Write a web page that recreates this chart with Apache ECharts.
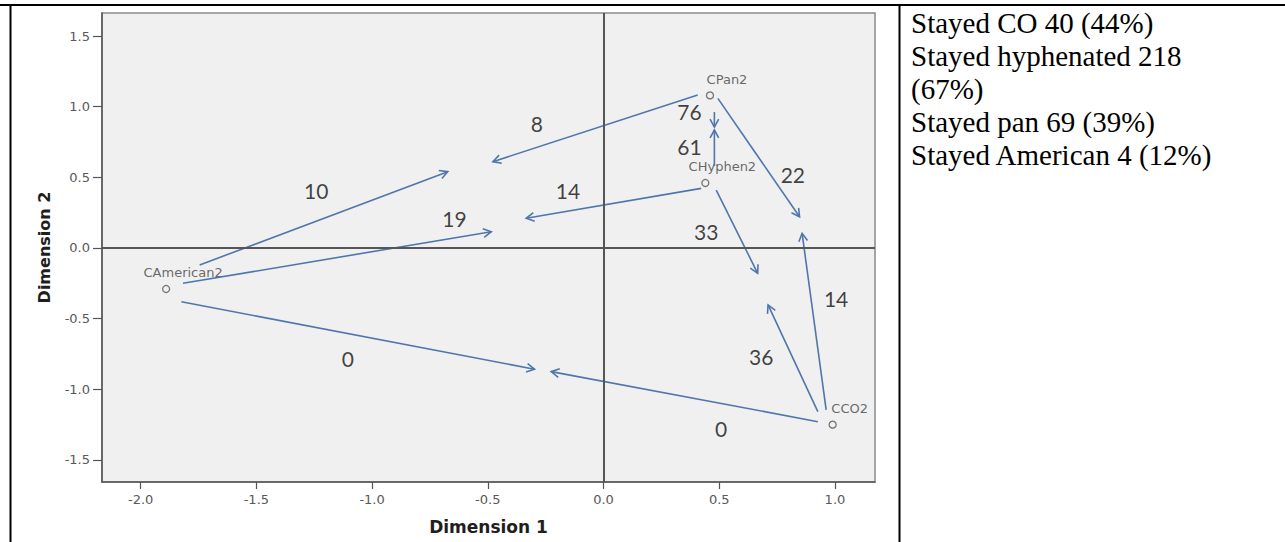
<!DOCTYPE html>
<html>
<head>
<meta charset="utf-8">
<script src="https://cdn.jsdelivr.net/npm/echarts@6/dist/echarts.min.js"></script>
<style>
  html, body { margin: 0; padding: 0; background: #ffffff; }
  #chart { width: 1285px; height: 542px; }
</style>
</head>
<body>
<div id="chart"></div>
<script>
// ---- data ----
const categories = ['CAmerican2', 'CPan2', 'CHyphen2', 'CCO2'];
const dim1 = [-1.89, 0.46, 0.44, 0.99];
const dim2 = [-0.29, 1.08, 0.46, -1.25];

const transitionCounts = [10, 19, 0, 0, 36, 14, 33, 14, 61, 76, 8, 22];
const arrowFrom = [
  [-1.745, -0.120], [-1.817, -0.250], [-1.824, -0.380], [0.926, -1.229],
  [0.926, -1.158], [0.962, -1.146], [0.487, 0.410], [0.422, 0.422],
  [0.479, 0.580], [0.479, 0.962], [0.407, 1.083], [0.494, 1.059]
];
const arrowTo = [
  [-0.673, 0.540], [-0.485, 0.115], [-0.298, -0.858], [-0.226, -0.875],
  [0.711, -0.403], [0.858, 0.104], [0.666, -0.179], [-0.334, 0.210],
  [0.479, 0.835], [0.479, 0.856], [-0.478, 0.611], [0.847, 0.221]
];
const countLabelAt = [
  [-1.241, 0.410], [-0.644, 0.210], [-1.105, -0.780], [0.508, -1.276],
  [0.681, -0.769], [1.005, -0.356], [0.444, 0.115], [-0.154, 0.410],
  [0.371, 0.717], [0.371, 0.964], [-0.288, 0.882], [0.818, 0.517]
];

const xTicks = [-2.0, -1.5, -1.0, -0.5, 0.0, 0.5, 1.0];
const yTicks = [-1.5, -1.0, -0.5, 0.0, 0.5, 1.0, 1.5];
const xName = 'Dimension 1';
const yName = 'Dimension 2';
const notes = ['Stayed CO 40 (44%)', 'Stayed hyphenated 218 (67%)', 'Stayed pan 69 (39%)', 'Stayed American 4 (12%)'];

// ---- build the chart ----
const pointData = categories.map((c, i) => ({ name: c, value: [dim1[i], dim2[i]] }));
const arrowData = arrowFrom.map((f, i) => [f[0], f[1], arrowTo[i][0], arrowTo[i][1]]);
const countData = countLabelAt.map((p, i) => [p[0], p[1], transitionCounts[i]]);

const arrowColor = '#4f76ac';
const tickFont = { color: '#585858', fontSize: 13, fontFamily: 'DejaVu Sans' };
const nameFont = { color: '#1e1e1e', fontSize: 17, fontWeight: 'bold', fontFamily: 'DejaVu Sans' };

const chart = echarts.init(document.getElementById('chart'), null, { renderer: 'svg' });
chart.setOption({
  animation: false,
  backgroundColor: '#ffffff',
  grid: {
    left: 102, top: 13, width: 773, height: 469,
    show: true, backgroundColor: '#f0f0f0', borderColor: '#8a8a8a', borderWidth: 1.5
  },
  xAxis: {
    type: 'value', min: -2.167, max: 1.173, position: 'bottom',
    axisLine: { show: true, onZero: false, lineStyle: { color: '#555', width: 1.5 } },
    axisTick: { show: true, length: 7, customValues: xTicks, lineStyle: { color: '#555', width: 1.2 } },
    axisLabel: Object.assign({ customValues: xTicks, margin: 11, formatter: v => v.toFixed(1) }, tickFont),
    splitLine: { show: false },
    name: xName, nameLocation: 'middle', nameGap: 36, nameTextStyle: nameFont
  },
  yAxis: {
    type: 'value', min: -1.656, max: 1.663, position: 'left',
    axisLine: { show: true, onZero: false, lineStyle: { color: '#555', width: 1.5 } },
    axisTick: { show: true, length: 9, customValues: yTicks, lineStyle: { color: '#555', width: 1.2 } },
    axisLabel: Object.assign({ customValues: yTicks, margin: 12, formatter: v => v.toFixed(1) }, tickFont),
    splitLine: { show: false },
    name: yName, nameLocation: 'middle', nameGap: 50, nameTextStyle: Object.assign({}, nameFont, { fontSize: 16 })
  },
  series: [
    {
      type: 'scatter', z: 3,
      data: pointData,
      symbol: 'circle', symbolSize: 7,
      itemStyle: { color: 'rgba(0,0,0,0)', borderColor: '#555', borderWidth: 1.3 },
      label: {
        show: true, position: 'inside', offset: [17, -16],
        formatter: p => p.name, color: '#444', fontSize: 13, fontFamily: 'DejaVu Sans'
      },
      markLine: {
        silent: true, symbol: ['none', 'none'], label: { show: false },
        lineStyle: { color: '#555', width: 2, type: 'solid' },
        data: [{ xAxis: 0 }, { yAxis: 0 }]
      }
    },
    {
      type: 'custom', z: 4,
      coordinateSystem: 'cartesian2d',
      encode: { x: [0, 2], y: [1, 3] },
      data: arrowData,
      renderItem: function (params, api) {
        const s = api.coord([api.value(0), api.value(1)]);
        const e = api.coord([api.value(2), api.value(3)]);
        const ang = Math.atan2(e[1] - s[1], e[0] - s[0]);
        const L = 9, a = 0.5;
        const h1 = [e[0] - L * Math.cos(ang - a), e[1] - L * Math.sin(ang - a)];
        const h2 = [e[0] - L * Math.cos(ang + a), e[1] - L * Math.sin(ang + a)];
        return {
          type: 'group',
          children: [
            { type: 'line', shape: { x1: s[0], y1: s[1], x2: e[0], y2: e[1] },
              style: { stroke: arrowColor, lineWidth: 1.6 } },
            { type: 'polyline', shape: { points: [h1, e, h2] },
              style: { stroke: arrowColor, lineWidth: 1.6, fill: null } }
          ]
        };
      }
    },
    {
      type: 'scatter', z: 5,
      data: countData,
      symbolSize: 0,
      label: {
        show: true, position: 'inside',
        formatter: p => String(p.value[2]),
        color: '#111', fontSize: 21, fontFamily: 'Lato'
      }
    }
  ],
  graphic: [
    { type: 'line', shape: { x1: 0, y1: 5, x2: 1285, y2: 5 }, style: { stroke: '#000', lineWidth: 2 } },
    { type: 'line', shape: { x1: 10.5, y1: 4, x2: 10.5, y2: 542 }, style: { stroke: '#000', lineWidth: 2 } },
    { type: 'line', shape: { x1: 899.5, y1: 4, x2: 899.5, y2: 542 }, style: { stroke: '#000', lineWidth: 2 } },
    {
      type: 'text', x: 911, y: 6,
      style: {
        text: notes.join('\n'), width: 322, overflow: 'break',
        font: '29px "Liberation Serif"', fill: '#000', lineHeight: 33
      }
    }
  ]
});
</script>
</body>
</html>
